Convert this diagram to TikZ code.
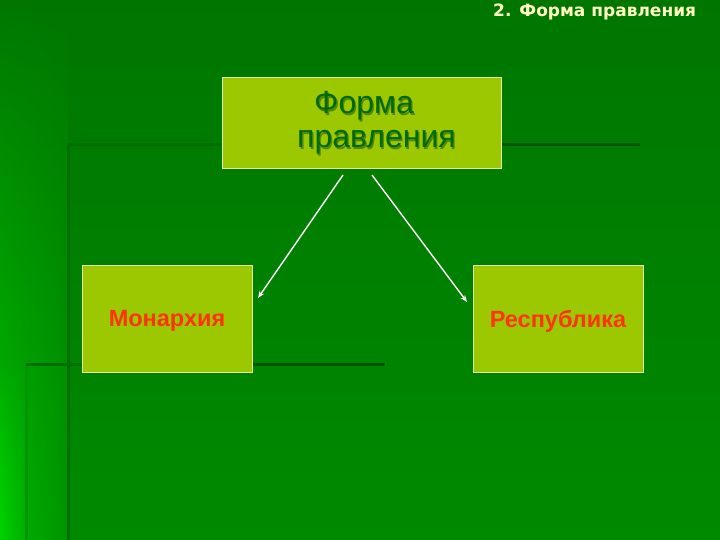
\documentclass[tikz,border=0pt]{standalone}
\usepackage{fontspec}
\setmainfont{Liberation Sans}
\newfontfamily\titlefont{DejaVu Sans}
\usetikzlibrary{arrows.meta,fadings}
\definecolor{bgtop}{RGB}{0,118,0}
\definecolor{bgbot}{RGB}{0,138,0}
\definecolor{stripL}{RGB}{0,185,0}
\definecolor{stripR}{RGB}{0,148,0}
\definecolor{brightL}{RGB}{0,210,0}
\definecolor{brightR}{RGB}{0,175,0}
\definecolor{lineDark}{RGB}{0,85,0}
\definecolor{lineSoft}{RGB}{0,110,0}
\definecolor{boxfill}{RGB}{155,200,0}
\definecolor{boxedge}{RGB}{225,240,170}
\definecolor{txtgreen}{RGB}{0,105,0}
\definecolor{txtshadow}{RGB}{0,60,0}
\definecolor{txtred}{RGB}{255,51,0}
\definecolor{titlecol}{RGB}{255,255,195}
\tikzset{
  box/.style={draw=boxedge, line width=0.9pt, fill=boxfill, inner sep=0pt},
  bigtext/.style={font=\fontsize{32}{36}\selectfont, inner sep=0pt},
  redtext/.style={font=\fontsize{23.5}{28}\selectfont\bfseries, text=txtred},
  conn/.style={draw=white, line width=1.4pt, -{Stealth[length=7pt,width=5.5pt]}},
  deco/.style={line width=3pt}
}
\begin{document}
\begin{tikzpicture}[x=1pt,y=-1pt]
\useasboundingbox (0,0) rectangle (720,540);
% background
\shade[top color=bgtop, bottom color=bgbot] (0,0) rectangle (720,540);
\shade[left color=stripL, right color=stripR, path fading=north] (0,0) rectangle (68,540);
\shade[left color=brightL, right color=brightR, path fading=north] (0,364) rectangle (25,540);
% decorative lines
\draw[deco, lineSoft] (68,145) -- (68,540);
\draw[deco, lineSoft] (68,145) -- (300,145);
\draw[deco, lineDark] (300,145) -- (640,145);
\draw[deco, stripR] (26,364) -- (26,540);
\draw[deco, lineSoft] (26,364) -- (200,364);
\draw[deco, lineDark] (200,364) -- (385,364);
% boxes
\node[box, minimum width=279pt, minimum height=91pt] (top) at (361.5,122.5) {};
\node[box, minimum width=170pt, minimum height=107pt] (mon) at (167,318.5) {};
\node[box, minimum width=170pt, minimum height=107pt] (rep) at (558,318.5) {};
\node[redtext, inner sep=0pt] (monT) at (167,321) {Монархия};
\node[redtext, inner sep=0pt] (repT) at (558,321) {Республика};
% top box text with shadow
\node[bigtext, anchor=base west, text=txtshadow, opacity=0.45] (t1s) at (315.3,115.3) {Форма};
\node[bigtext, anchor=base west, text=txtshadow, opacity=0.45] (t2s) at (298.3,149.3) {правления};
\node[bigtext, anchor=base west, text=txtgreen] (t1) at (314,114) {Форма};
\node[bigtext, anchor=base west, text=txtgreen] (t2) at (297,148) {правления};
% title
\node[anchor=base west, inner sep=0pt, text=titlecol, font=\titlefont\bfseries\fontsize{17}{20}\selectfont] (title) at (493,17) {2. Форма правления};
% connectors
\coordinate (lA) at (343,175);
\coordinate (lB) at (258,298);
\coordinate (rA) at (372,175);
\coordinate (rB) at (467,302);
\draw[conn] (lA) -- (lB);
\draw[conn] (rA) -- (rB);
\end{tikzpicture}
\end{document}
